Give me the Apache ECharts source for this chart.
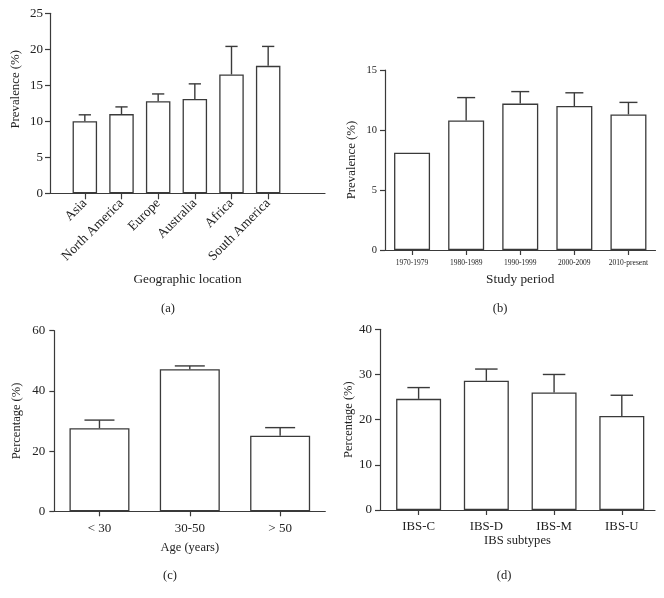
<!DOCTYPE html>
<html>
<head>
<meta charset="utf-8">
<script src="https://cdn.jsdelivr.net/npm/echarts@6/dist/echarts.min.js"></script>
<style>
html,body{margin:0;padding:0;background:#fff;}
#chart{width:664px;height:598px;}
</style>
</head>
<body>
<div id="chart"></div>
<script>
// ---- data ----
const catsA = ['Asia', 'North America', 'Europe', 'Australia', 'Africa', 'South America'];
const valsA = [10.0, 11.0, 12.8, 13.1, 16.5, 17.7];
const errA  = [10.9, 12.0, 13.8, 15.2, 20.4, 20.4];

const catsB = ['1970-1979', '1980-1989', '1990-1999', '2000-2009', '2010-present'];
const valsB = [8.1, 10.8, 12.2, 12.0, 11.3];
const errB  = [null, 12.7, 13.2, 13.1, 12.3];

const catsC = ['< 30', '30-50', '> 50'];
const valsC = [27.6, 47.2, 25.1];
const errC  = [30.3, 48.3, 27.8];

const catsD = ['IBS-C', 'IBS-D', 'IBS-M', 'IBS-U'];
const valsD = [24.6, 28.6, 26.0, 20.8];
const errD  = [27.1, 31.2, 30.0, 25.4];

const panelLabels = ['(a)', '(b)', '(c)', '(d)'];

// ---- styling ----
const FONT = '"Liberation Serif", "DejaVu Serif", serif';
const LINE = '#3a3a3a';
const TXT = '#222';

function errSeries(xi, yi, data, barW) {
  return {
    type: 'custom', xAxisIndex: xi, yAxisIndex: yi, z: 5,
    data: data,
    renderItem: function (params, api) {
      const e = api.value(2);
      if (e === null || e === undefined || isNaN(e)) return null;
      const top = api.coord([api.value(0), e]);
      const base = api.coord([api.value(0), api.value(1)]);
      const hw = barW / 4;
      return {
        type: 'group',
        children: [
          { type: 'line', shape: { x1: top[0], y1: base[1], x2: top[0], y2: top[1] }, style: { stroke: LINE, lineWidth: 1.4 } },
          { type: 'line', shape: { x1: top[0] - hw, y1: top[1], x2: top[0] + hw, y2: top[1] }, style: { stroke: LINE, lineWidth: 1.4 } }
        ]
      };
    }
  };
}

function yAx(gi, max, interval, name, gap, fs, margin, nameStyle) {
  return {
    type: 'value', gridIndex: gi, min: 0, max: max, interval: interval,
    name: name, nameLocation: 'middle', nameGap: gap,
    nameTextStyle: Object.assign({ fontFamily: FONT, fontSize: 12.8, color: TXT }, nameStyle || {}),
    axisLine: { show: true, lineStyle: { color: LINE, width: 1.2 } },
    axisTick: { show: true, length: 5, lineStyle: { color: LINE, width: 1.2 } },
    axisLabel: { fontFamily: FONT, fontSize: fs, color: TXT, margin: margin },
    splitLine: { show: false }
  };
}

const posA = catsA.map((c, i) => i + 1);
const posD = catsD.map((c, i) => i + 1);

const barStyle = { color: '#fff', borderColor: LINE, borderWidth: 1.3 };
const labStyle = { fontFamily: FONT, fontSize: 12.5, fontWeight: 'normal', color: TXT };

const option = {
  animation: false,
  backgroundColor: '#fff',
  title: [
    { text: panelLabels[0], left: 163, top: 297, textAlign: 'center', textStyle: labStyle },
    { text: panelLabels[1], left: 495, top: 297, textAlign: 'center', textStyle: labStyle },
    { text: panelLabels[2], left: 165, top: 564, textAlign: 'center', textStyle: labStyle },
    { text: panelLabels[3], left: 499, top: 564, textAlign: 'center', textStyle: labStyle }
  ],
  grid: [
    { left: 50, top: 13.3, width: 275, height: 180 },
    { left: 385, top: 70, width: 270.5, height: 180 },
    { left: 54.3, top: 330.7, width: 271, height: 180.6 },
    { left: 380, top: 329.3, width: 275, height: 180.7 }
  ],
  xAxis: [
    {
      type: 'value', gridIndex: 0, min: 0.05, max: 7.55,
      name: 'Geographic location', nameLocation: 'middle', nameGap: 80,
      nameTextStyle: { fontFamily: FONT, fontSize: 13.3, color: TXT },
      axisLine: { show: true, onZero: false, lineStyle: { color: LINE, width: 1.2 } },
      axisTick: { show: true, length: 6, customValues: posA, lineStyle: { color: LINE, width: 1.2 } },
      axisLabel: { rotate: 45, fontFamily: FONT, fontSize: 13.5, color: TXT, margin: 8, customValues: posA,
        formatter: function (v) { return catsA[Math.round(v) - 1] || ''; } },
      splitLine: { show: false }
    },
    {
      type: 'category', gridIndex: 1, data: catsB,
      name: 'Study period', nameLocation: 'middle', nameGap: 23,
      nameTextStyle: { fontFamily: FONT, fontSize: 13.3, color: TXT },
      axisLine: { show: true, lineStyle: { color: LINE, width: 1.2 } },
      axisTick: { show: true, alignWithLabel: true, length: 5, lineStyle: { color: LINE, width: 1.2 } },
      axisLabel: { fontFamily: FONT, fontSize: 7.5, color: TXT, margin: 9, interval: 0 }
    },
    {
      type: 'category', gridIndex: 2, data: catsC,
      name: 'Age (years)', nameLocation: 'middle', nameGap: 30,
      nameTextStyle: { fontFamily: FONT, fontSize: 12.5, color: TXT },
      axisLine: { show: true, lineStyle: { color: LINE, width: 1.2 } },
      axisTick: { show: true, alignWithLabel: true, length: 5, lineStyle: { color: LINE, width: 1.2 } },
      axisLabel: { fontFamily: FONT, fontSize: 13, color: TXT, margin: 11, interval: 0 }
    },
    {
      type: 'value', gridIndex: 3, min: 0.43, max: 4.49,
      name: 'IBS subtypes', nameLocation: 'middle', nameGap: 22,
      nameTextStyle: { fontFamily: FONT, fontSize: 12.6, color: TXT },
      axisLine: { show: true, onZero: false, lineStyle: { color: LINE, width: 1.2 } },
      axisTick: { show: true, length: 5, customValues: posD, lineStyle: { color: LINE, width: 1.2 } },
      axisLabel: { fontFamily: FONT, fontSize: 12.8, color: TXT, margin: 10, customValues: posD,
        formatter: function (v) { return catsD[Math.round(v) - 1] || ''; } },
      splitLine: { show: false }
    }
  ],
  yAxis: [
    yAx(0, 25, 5, 'Prevalence (%)', 28, 13, 7, { padding: [0, 0, 0, 28] }),
    yAx(1, 15, 5, 'Prevalence (%)', 27, 10.5, 8),
    yAx(2, 60, 20, 'Percentage (%)', 31, 13, 9, { fontSize: 12.5 }),
    yAx(3, 40, 10, 'Percentage (%)', 25, 13, 8, { fontSize: 12.5 })
  ],
  series: [
    { type: 'bar', xAxisIndex: 0, yAxisIndex: 0, barWidth: 24.5, itemStyle: barStyle,
      data: valsA.map((v, i) => [posA[i], v]) },
    errSeries(0, 0, valsA.map((v, i) => [posA[i], v, errA[i]]), 24.5),
    { type: 'bar', xAxisIndex: 1, yAxisIndex: 1, barWidth: 36, itemStyle: barStyle, data: valsB },
    errSeries(1, 1, valsB.map((v, i) => [i, v, errB[i] === null ? NaN : errB[i]]), 36),
    { type: 'bar', xAxisIndex: 2, yAxisIndex: 2, barWidth: 60, itemStyle: barStyle, data: valsC },
    errSeries(2, 2, valsC.map((v, i) => [i, v, errC[i]]), 60),
    { type: 'bar', xAxisIndex: 3, yAxisIndex: 3, barWidth: 45, itemStyle: barStyle,
      data: valsD.map((v, i) => [posD[i], v]) },
    errSeries(3, 3, valsD.map((v, i) => [posD[i], v, errD[i]]), 45)
  ]
};

const chart = echarts.init(document.getElementById('chart'), null, { renderer: 'canvas' });
chart.setOption(option);
</script>
</body>
</html>
